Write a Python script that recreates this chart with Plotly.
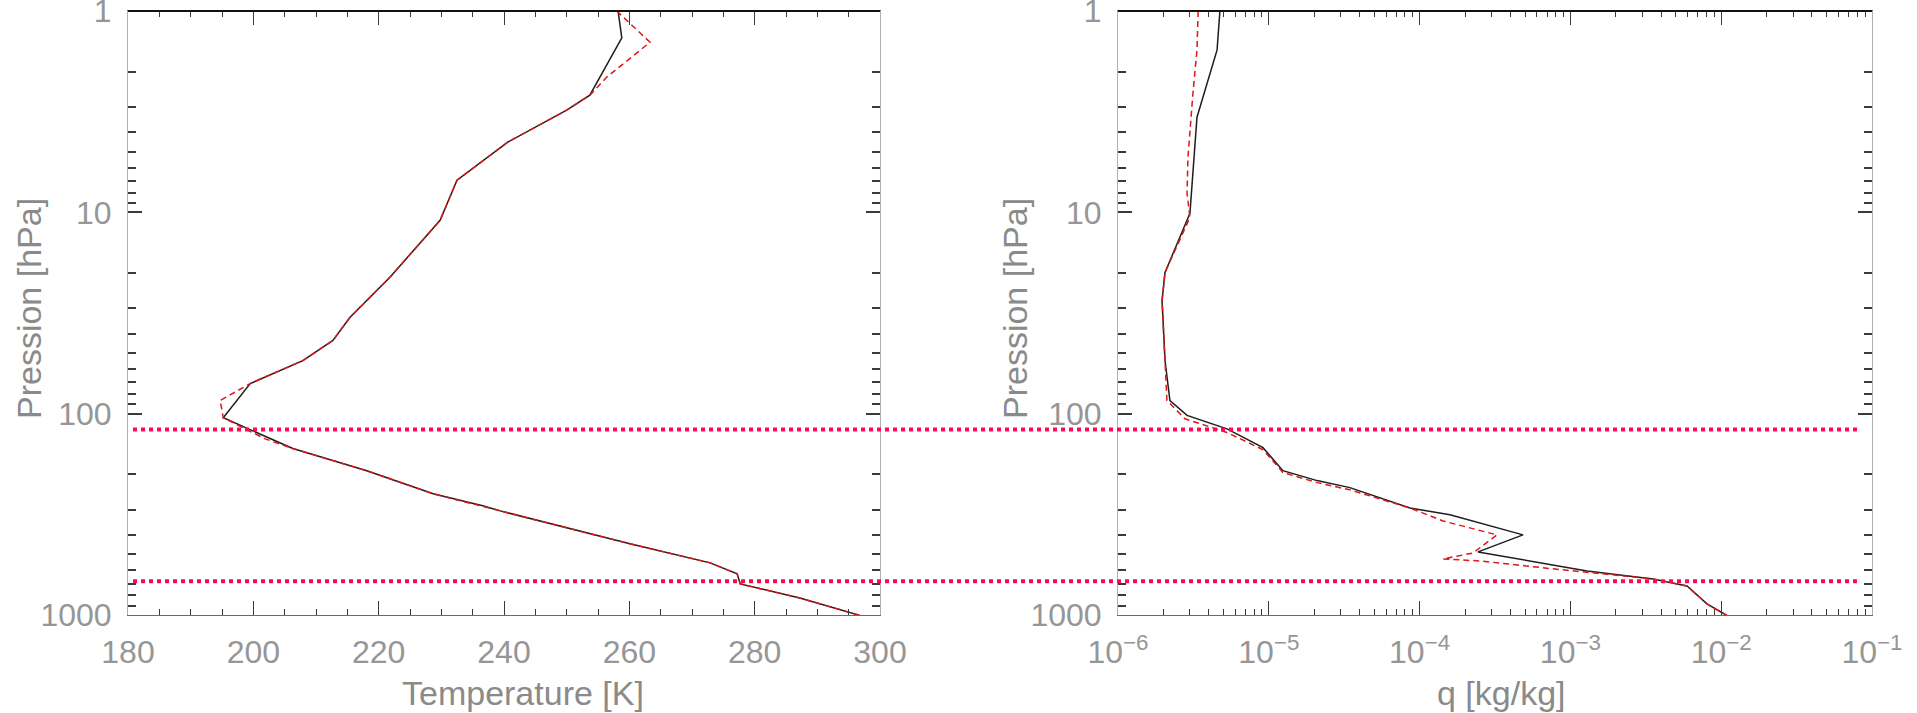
import math
import plotly.graph_objects as go

# ---------------- data ----------------
# Temperature profiles: pressure [hPa] and temperature [K]
p_temp_ref = [1.0, 1.36, 2.62, 3.11, 4.48, 6.93, 10.96, 21.0, 33.3, 43.3, 54.5, 70.9,
              104.7, 121.6, 149, 192, 250, 287, 304, 443, 551, 625, 701, 823, 881, 1005]
temp_ref = [258.2, 258.8, 253.7, 250.0, 240.6, 232.5, 229.8, 221.8, 215.4, 212.7, 207.9, 199.5,
            195.2, 199.9, 206.3, 218.1, 228.7, 236.6, 239.4, 260.1, 272.9, 277.2, 277.7, 287.2, 290.4, 296.8]

p_temp_alt = [1.0, 1.43, 2.13, 2.62, 3.11, 4.48, 6.93, 10.96, 21.0, 33.3, 43.3, 54.5, 70.9, 86,
              104.7, 133, 149, 192, 250, 287, 304, 443, 551, 625, 701, 823, 881, 1005]
temp_alt = [258.0, 263.3, 256.4, 253.7, 250.0, 240.6, 232.5, 229.8, 221.8, 215.4, 212.7, 207.9, 199.5, 194.7,
            195.2, 201.8, 206.3, 218.1, 228.7, 236.6, 239.4, 260.1, 272.9, 277.2, 277.7, 287.2, 290.4, 296.8]

# Specific humidity profiles: pressure [hPa] and q [kg/kg]
p_q_ref = [1.0, 1.56, 3.37, 10.1, 19.9, 27.4, 54.5, 86.1, 102, 119, 147.6, 192, 215, 233,
           294, 318, 400, 486, 604, 662, 718, 881, 1005]
q_ref = [4.74e-6, 4.54e-6, 3.34e-6, 3.0e-6, 2.05e-6, 1.96e-6, 2.05e-6, 2.21e-6, 2.87e-6, 5.28e-6,
         9.16e-6, 1.24e-5, 2.09e-5, 3.45e-5, 8.63e-5, 1.59e-4, 4.85e-4, 2.44e-4, 1.29e-3, 3.53e-3,
         5.93e-3, 8.05e-3, 1.09e-2]

p_q_alt = [1.0, 1.56, 2.56, 5.33, 8.04, 10.6, 19.9, 27.4, 54.5, 86, 106, 124, 151, 196, 220, 239,
           294, 341, 400, 492, 527, 539, 590, 662, 718, 881, 1005]
q_alt = [3.4e-6, 3.34e-6, 3.14e-6, 2.91e-6, 2.87e-6, 3.0e-6, 2.05e-6, 1.96e-6, 2.05e-6, 2.11e-6,
         2.78e-6, 5.28e-6, 9.16e-6, 1.24e-5, 2.09e-5, 3.45e-5, 8.63e-5, 1.43e-4, 3.26e-4, 2.26e-4,
         1.43e-4, 2.52e-4, 7.67e-4, 3.53e-3, 5.93e-3, 8.05e-3, 1.09e-2]

# Horizontal reference levels [hPa]
level_lines_hPa = [120, 680]

# Tick labels
temp_ticks = [180, 200, 220, 240, 260, 280, 300]
p_ticks = [1, 10, 100, 1000]
p_tick_text = ["1", "10", "100", "1000"]
q_ticks = [1e-6, 1e-5, 1e-4, 1e-3, 1e-2, 1e-1]
q_tick_text = ["10<sup>\u22126</sup>", "10<sup>\u22125</sup>", "10<sup>\u22124</sup>",
               "10<sup>\u22123</sup>", "10<sup>\u22122</sup>", "10<sup>\u22121</sup>"]

# ---------------- layout helpers ----------------
W, H = 1917, 713


def dom_x(a, b):
    return [a / W, b / W]


def dom_y(top, bottom):
    return [(H - bottom) / H, (H - top) / H]


p_minor = [k * 10 ** n for n in range(0, 3) for k in range(2, 10)]
q_minor = [k * 10.0 ** n for n in range(-6, -1) for k in range(2, 10)]

FONT = "Liberation Sans"
TICK_FONT = dict(family=FONT, size=32, color="#969696")
TITLE_FONT = dict(family=FONT, size=34, color="#8a8a8a")
TICK_COL = "#3a3a3a"

ydom = dom_y(11, 615)
p_range = [math.log10(max(p_ticks)), math.log10(min(p_ticks))]

fig = go.Figure()

fig.add_trace(go.Scatter(x=temp_ref, y=p_temp_ref, xaxis="x", yaxis="y", mode="lines",
                         line=dict(color="#1e1e1e", width=1.5)))
fig.add_trace(go.Scatter(x=temp_alt, y=p_temp_alt, xaxis="x", yaxis="y", mode="lines",
                         line=dict(color="#e01515", width=1.5, dash="6px,4px")))
fig.add_trace(go.Scatter(x=q_ref, y=p_q_ref, xaxis="x2", yaxis="y2", mode="lines",
                         line=dict(color="#1e1e1e", width=1.5)))
fig.add_trace(go.Scatter(x=q_alt, y=p_q_alt, xaxis="x2", yaxis="y2", mode="lines",
                         line=dict(color="#e01515", width=1.5, dash="6px,4px")))
for lvl in level_lines_hPa:
    fig.add_trace(go.Scatter(x=[0, 1], y=[lvl, lvl], xaxis="x3", yaxis="y3", mode="lines",
                             line=dict(color="#ff0a55", width=4, dash="dot")))

common_x = dict(showline=True, linecolor="#6a6a6a", linewidth=1, mirror="allticks",
                ticks="inside", ticklen=14, tickwidth=1, tickcolor=TICK_COL,
                showgrid=False, zeroline=False, automargin=False,
                tickfont=TICK_FONT, ticklabelstandoff=9, ticklabeloverflow="allow")
common_y = dict(showline=True, linecolor="#b0b0b0", linewidth=1, mirror="allticks",
                ticks="inside", ticklen=14, tickwidth=1.5, tickcolor=TICK_COL,
                showgrid=False, zeroline=False, automargin=False,
                tickfont=TICK_FONT, ticklabelstandoff=9, ticklabeloverflow="allow",
                type="log", range=p_range, tickmode="array", tickvals=p_ticks, ticktext=p_tick_text,
                minor=dict(tickmode="array", tickvals=p_minor, ticks="inside", ticklen=8,
                           tickcolor=TICK_COL, tickwidth=1.5))

fig.update_layout(
    width=W, height=H,
    margin=dict(l=0, r=0, t=0, b=0),
    paper_bgcolor="white", plot_bgcolor="rgba(0,0,0,0)",
    showlegend=False,
    xaxis=dict(domain=dom_x(128, 880), anchor="y", range=[180, 300],
               tickmode="array", tickvals=temp_ticks,
               minor=dict(dtick=5, tick0=180, ticks="inside", ticklen=6, tickcolor=TICK_COL),
               **common_x),
    yaxis=dict(domain=ydom, anchor="x", **common_y),
    xaxis2=dict(domain=dom_x(1118, 1872), anchor="y2", type="log",
                range=[math.log10(min(q_ticks)), math.log10(max(q_ticks))],
                tickmode="array", tickvals=q_ticks, ticktext=q_tick_text,
                minor=dict(tickmode="array", tickvals=q_minor, ticks="inside", ticklen=6,
                           tickcolor=TICK_COL),
                **common_x),
    yaxis2=dict(domain=ydom, anchor="x2", **common_y),
    xaxis3=dict(domain=dom_x(133, 1858), anchor="y3", range=[0, 1], visible=False),
    yaxis3=dict(domain=ydom, anchor="x3", type="log", range=p_range, visible=False),
    shapes=[
        dict(type="line", xref="x domain", yref="y domain", x0=0, x1=1, y0=1, y1=1,
             line=dict(color="#111", width=2)),
        dict(type="line", xref="x2 domain", yref="y2 domain", x0=0, x1=1, y0=1, y1=1,
             line=dict(color="#111", width=2)),
    ],
    annotations=[
        dict(text="Temperature [K]", xref="paper", yref="paper", x=523 / W, y=(H - 693) / H,
             xanchor="center", yanchor="middle", showarrow=False, font=TITLE_FONT),
        dict(text="q [kg/kg]", xref="paper", yref="paper", x=1501 / W, y=(H - 693) / H,
             xanchor="center", yanchor="middle", showarrow=False, font=TITLE_FONT),
        dict(text="Pression [hPa]", xref="paper", yref="paper", x=29 / W, y=(H - 309) / H,
             xanchor="center", yanchor="middle", textangle=-90, showarrow=False, font=TITLE_FONT),
        dict(text="Pression [hPa]", xref="paper", yref="paper", x=1015 / W, y=(H - 309) / H,
             xanchor="center", yanchor="middle", textangle=-90, showarrow=False, font=TITLE_FONT),
    ],
)

fig.write_html("out.html")
